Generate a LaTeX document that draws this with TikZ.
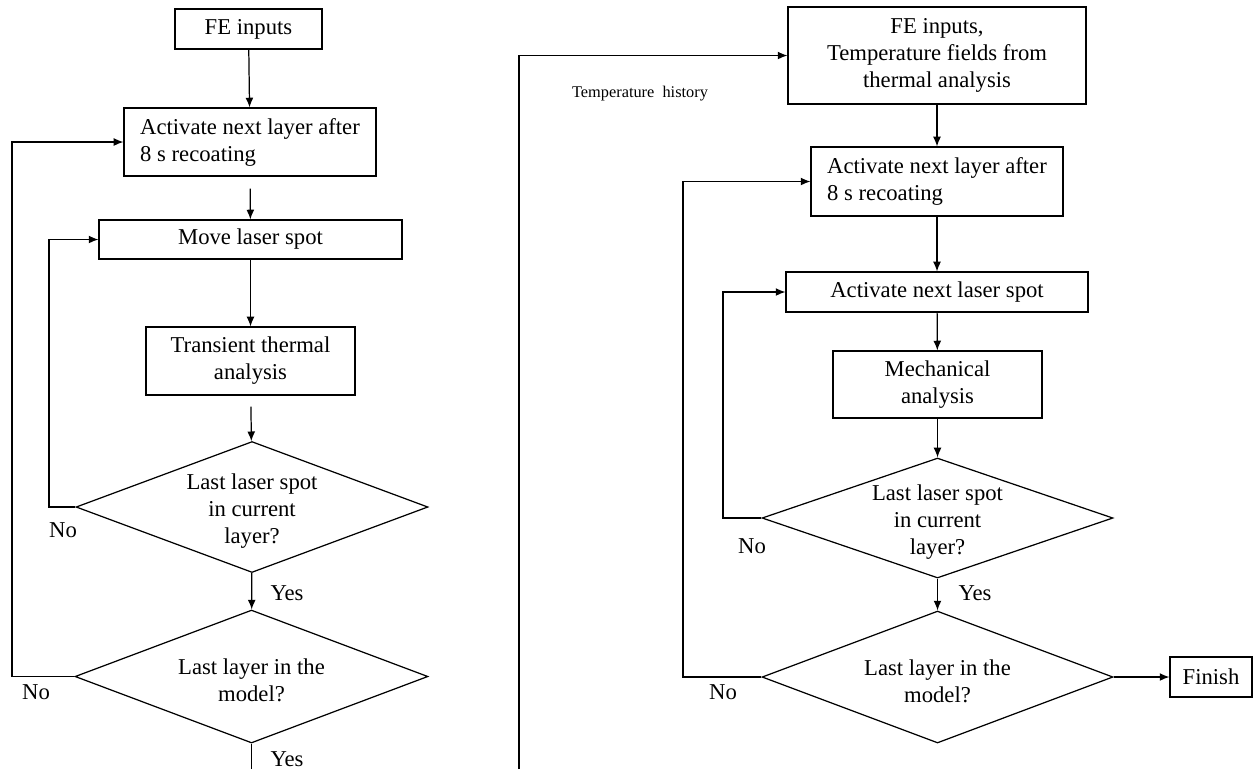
\documentclass[tikz,border=0pt]{standalone}
\usepackage{fontspec}
\setmainfont{Liberation Serif}
\usetikzlibrary{arrows.meta,shapes.geometric}
\tikzset{
	box/.style={draw, line width=0.7pt, inner sep=0pt, align=center,
			font=\fontsize{12.9}{15.4}\selectfont},
	decision/.style={draw, shape=diamond, line width=0.7pt, inner sep=0pt,
			label={[align=center, yshift=-2.2pt, font=\fontsize{12.9}{15.4}\selectfont]center:#1}},
	answer/.style={font=\fontsize{12.9}{15.4}\selectfont},
	flow/.style={line width=0.7pt, -{Latex[length=5.5pt,width=4.5pt]}}
}

\begin{document}
\begin{tikzpicture}[x=0.02cm, y=-0.02cm]
        \useasboundingbox (0, 0) rectangle (1253, 769);
        % thermal analysis
        \node[box, minimum width=2.94cm, minimum height=0.8cm] (fe_T) at (248.5, 29) {FE inputs};
        \node[box, align=left, minimum width=5.04cm, minimum height=1.36cm] (layer_T) at (250, 142) {Activate\ next\ layer\ after\\8 s recoating};
        \node[box, minimum width=6.06cm, minimum height=0.78cm] (spot_T) at (250.5, 239.5) {Move laser spot};
        \node[box, minimum width=4.18cm, minimum height=1.36cm] (solve_T) at (250.5, 361) {Transient\ thermal\\analysis};
        \node[decision={Last laser spot\\in current\\layer?}, minimum width=7.04cm, minimum height=2.62cm] (lastspot_T) at (252, 507) {};
        \node[decision={Last layer in the\\model?}, minimum width=7.06cm, minimum height=2.66cm] (lastlayer_T) at (251.5, 676.5) {};
        \coordinate (out_T) at (251.5, 769);
        \node[answer] (no_1_T) at (63, 530) {No};
        \node[answer] (yes_1_T) at (287, 593) {Yes};
        \node[answer] (no_2_T) at (36, 692) {No};
        \node[answer] (yes_2_T) at (287, 759) {Yes};
        \draw[flow] (fe_T) -- (layer_T);
        \draw[flow, shorten <=0.24cm] (layer_T) -- (spot_T);
        \draw[flow] (spot_T) -- (solve_T);
        \draw[flow, shorten <=0.22cm] (solve_T) -- (lastspot_T);
        \draw[flow] (lastspot_T) -- (lastlayer_T);
        \draw[flow] (lastspot_T.west) -- (49, 507) |- (spot_T.west);
        \draw[flow] (lastlayer_T.west) -- (12, 676.5) |- (layer_T.west);
        \draw[line width=0.7pt] (lastlayer_T.south) -- (out_T);
        % mechanical analysis
        \coordinate (in_M) at (519, 769);
        \node[font=\fontsize{9.3}{11}\selectfont] (history_M) at (640, 94) {Temperature\ \ history};
        \node[box, minimum width=5.96cm, minimum height=1.94cm] (fe_M) at (937, 55.5) {FE inputs,\\Temperature\ fields\ from\\thermal\ analysis};
        \node[box, align=left, minimum width=5.04cm, minimum height=1.38cm] (layer_M) at (937, 181.5) {Activate\ next\ layer\ after\\8 s recoating};
        \node[box, minimum width=6.04cm, minimum height=0.8cm] (spot_M) at (937, 292) {Activate next laser spot};
        \node[box, minimum width=4.18cm, minimum height=1.34cm] (solve_M) at (937.5, 384.5) {Mechanical\\analysis};
        \node[decision={Last laser spot\\in current\\layer?}, minimum width=7.02cm, minimum height=2.4cm] (lastspot_M) at (937.5, 518) {};
        \node[decision={Last layer in the\\model?}, minimum width=7.02cm, minimum height=2.64cm] (lastlayer_M) at (937.5, 677) {};
        \node[box, minimum width=1.64cm, minimum height=0.8cm] (finish_M) at (1211, 677) {Finish};
        \node[answer] (no_1_M) at (752, 546) {No};
        \node[answer] (yes_1_M) at (975, 593) {Yes};
        \node[answer] (no_2_M) at (723, 692) {No};
        \draw[flow] (in_M) |- (fe_M.west);
        \draw[flow] (fe_M) -- (layer_M);
        \draw[flow] (layer_M) -- (spot_M);
        \draw[flow] (spot_M) -- (solve_M);
        \draw[flow] (solve_M) -- (lastspot_M);
        \draw[flow] (lastspot_M) -- (lastlayer_M);
        \draw[flow] (lastlayer_M) -- (finish_M);
        \draw[flow] (lastspot_M.west) -- (723, 518) |- (spot_M.west);
        \draw[flow] (lastlayer_M.west) -- (683, 677) |- (layer_M.west);
    \end{tikzpicture}
\end{document}
